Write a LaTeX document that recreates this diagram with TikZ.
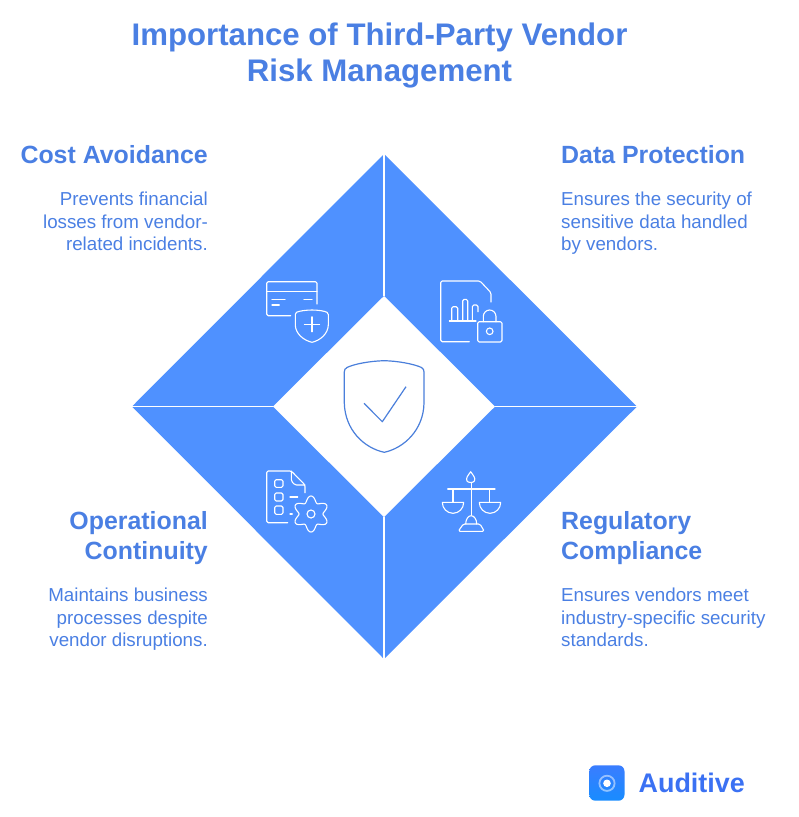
\documentclass[tikz,border=0pt]{standalone}
\usepackage{fontspec}
\setmainfont{Liberation Sans}
\definecolor{blu}{HTML}{4F91FF}
\definecolor{txt}{HTML}{4A7FE3}
\definecolor{shieldc}{HTML}{4A7FDB}
\definecolor{logot}{HTML}{3B71F3}
\definecolor{logoa}{HTML}{3A7DFF}
\definecolor{logob}{HTML}{188CFF}
\tikzset{
  titlet/.style={inner sep=0,text=txt,align=center,anchor=north,font=\fontsize{31.2}{36}\selectfont\bfseries},
  headl/.style={inner sep=0,text=txt,align=right,anchor=north east,font=\fontsize{24.9}{30}\selectfont\bfseries},
  headr/.style={inner sep=0,text=txt,align=left,anchor=north west,font=\fontsize{24.9}{30}\selectfont\bfseries},
  bodyl/.style={inner sep=0,text=txt,align=right,anchor=north east,font=\fontsize{18.75}{22.5}\selectfont},
  bodyr/.style={inner sep=0,text=txt,align=left,anchor=north west,font=\fontsize{18.75}{22.5}\selectfont},
  icon/.style={draw=white,line width=1.1pt,line cap=round,line join=round,rounded corners=1.5pt},
  divider/.style={draw=white,line width=1.5pt},
}
\begin{document}
\begin{tikzpicture}[x=1pt,y=-1pt]
\useasboundingbox (0,0) rectangle (799,817);
% big diamond
\fill[blu] (384,154) -- (637,406.5) -- (384,659) -- (132,406.5) -- cycle;
\fill[white] (384,296) -- (495,406.5) -- (384,517) -- (273,406.5) -- cycle;
\draw[divider] (384,154) -- (384,296);
\draw[divider] (384,517) -- (384,659);
\draw[divider] (132,406.5) -- (273,406.5);
\draw[divider] (495,406.5) -- (637,406.5);
% centre shield
\draw[draw=shieldc,line width=1.2pt,line join=round] (384.3,360.7) .. controls (370,361) and (354,364) .. (347,367.5) .. controls (345,368.5) and (344.3,370) .. (344.3,372) -- (344.3,403) .. controls (345,430) and (364,448) .. (384.3,452.3) .. controls (404,448) and (423.5,430) .. (424,403) -- (424,372) .. controls (424,370) and (423.3,368.5) .. (421.5,367.5) .. controls (414,364) and (398,361) .. (384.3,360.7) -- cycle;
\draw[draw=shieldc,line width=1.2pt,line join=round] (364,403.3) -- (382.3,421.7) -- (406,386.7);
% card icon
\draw[icon] (290.7,315.7) -- (266.7,315.7) -- (266.7,281.7) -- (317,281.7) -- (317,304);
\draw[icon] (266.7,291.7) -- (317,291.7);
\draw[icon] (272,299.3) -- (285,299.3) (272,305) -- (279.3,305) (304,299.3) -- (312,299.3);
\draw[icon,rounded corners=0pt] (312,310) .. controls (306,310) and (299,311) .. (296.5,312.3) .. controls (295.5,312.8) and (295.3,313.5) .. (295.3,314.5) -- (295.3,325) .. controls (295.5,334) and (304,340.5) .. (312,342.3) .. controls (320,340.5) and (328,334) .. (328.3,325) -- (328.3,314.5) .. controls (328.3,313.5) and (328,312.8) .. (327,312.3) .. controls (324.5,311) and (318,310) .. (312,310) -- cycle;
\draw[icon] (304.5,324.3) -- (319.5,324.3) (312,316.8) -- (312,331.8);
% document with lock
\draw[icon] (469.3,341.7) -- (440.7,341.7) -- (440.7,281) -- (480,281) -- (491,292.7) -- (491,302);
\draw[icon] (449.3,321) -- (476,321);
\draw[icon] (451.7,321) -- (451.7,306.7) -- (457.7,306.7) -- (457.7,321);
\draw[icon] (462.7,321) -- (462.7,299.3) -- (467.7,299.3) -- (467.7,321);
\draw[icon] (472.3,321) -- (472.3,305) -- (478,305) -- (478,311.7);
\draw[icon] (477.7,321.7) rectangle (502,342);
\draw[icon,rounded corners=0pt] (483.3,321.7) -- (483.3,316.5) arc[start angle=180,end angle=360,x radius=6.35,y radius=6.5] -- (496,321.7);
\draw[icon] (489.7,331.3) circle[radius=3.3];
% checklist with gear
\draw[icon] (287.7,522.7) -- (266.7,522.7) -- (266.7,471) -- (291.3,471) -- (305,485) -- (305,492.7);
\draw[icon] (291.3,471) -- (291.3,481) -- (295,485) -- (305,485);
\draw[icon] (274.7,479.7) rectangle (283,487.3);
\draw[icon] (274.7,493) rectangle (283,501);
\draw[icon] (274.7,506) rectangle (283,514.3);
\draw[icon] (290,497) -- (297.7,497) (290,514) -- (292.3,514);
\draw[icon,rounded corners=0pt] plot[domain=0:360,samples=121,smooth] ({311+(15-3*cos(6*\x))*cos(\x)},{514+(15-3*cos(6*\x))*sin(\x)}) -- cycle;
\draw[icon] (311,514) circle[radius=4];
% scales
\draw[icon] (471.3,483.3) -- (471.3,515);
\draw[icon,rounded corners=0pt] (470.7,471.7) .. controls (468,475.5) and (465.5,478) .. (467,481) .. controls (468,483) and (473.5,483) .. (474.4,481) .. controls (475.8,478) and (473.3,475.5) .. (470.7,471.7) -- cycle;
\draw[icon] (447.7,489) -- (495,489);
\draw[icon] (453,489) -- (453,502.3) (489.7,489) -- (489.7,502.3);
\draw[icon,rounded corners=0pt] (442.3,502.3) -- (463.7,502.3) arc[start angle=0,end angle=180,x radius=10.7,y radius=11] -- cycle;
\draw[icon,rounded corners=0pt] (479.3,502.3) -- (500.7,502.3) arc[start angle=0,end angle=180,x radius=10.7,y radius=11] -- cycle;
\draw[icon,rounded corners=0pt] (465.7,524) arc[start angle=180,end angle=360,x radius=5.5,y radius=8.3];
\draw[icon] (463.3,524) -- (480,524) -- (484.3,531.3) -- (458.3,531.3) -- cycle;
% title
\node[titlet] (title) at (379.5,23) {Importance of Third-Party Vendor\\Risk Management};
% corners
\node[headl] (h1) at (208,145.5) {Cost Avoidance};
\node[bodyl] (b1) at (208,192) {Prevents financial\\losses from vendor-\\related incidents.};
\node[headr] (h2) at (561,145.5) {Data Protection};
\node[bodyr] (b2) at (561,192) {Ensures the security of\\sensitive data handled\\by vendors.};
\node[headl] (h3) at (208,511.5) {Operational\\Continuity};
\node[bodyl] (b3) at (208,588) {Maintains business\\processes despite\\vendor disruptions.};
\node[headr] (h4) at (561,511.5) {Regulatory\\Compliance};
\node[bodyr] (b4) at (561,588) {Ensures vendors meet\\industry-specific security\\standards.};
% logo
\shade[rounded corners=6pt,top color=logoa,bottom color=logob] (589.3,765.3) rectangle (624.5,800.7);
\draw[white,opacity=.5,line width=1.8pt] (607,783.3) circle[radius=7.6];
\fill[white] (607,783.3) circle[radius=3.8];
\node[inner sep=0,anchor=base west,text=logot,font=\fontsize{26.9}{30}\selectfont\bfseries] (brand) at (638.5,792.5) {Auditive};
\end{tikzpicture}
\end{document}
